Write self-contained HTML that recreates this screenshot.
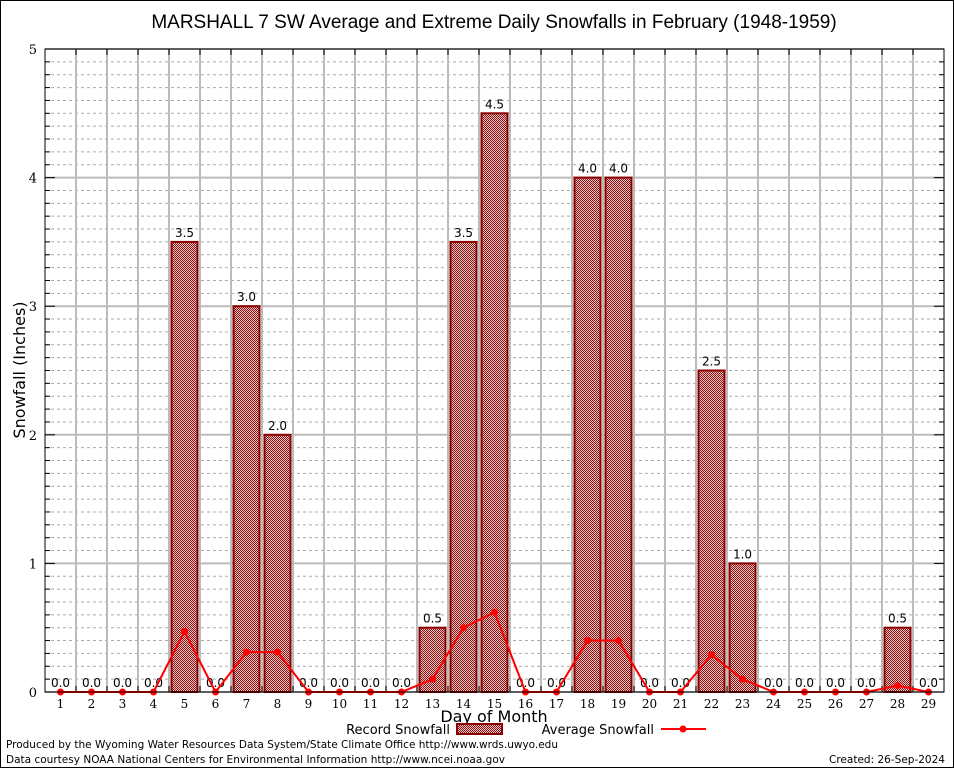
<!DOCTYPE html>
<html><head><meta charset="utf-8"><style>
body{margin:0;background:#fff}
svg{display:block;font-family:"DejaVu Sans","Liberation Sans",sans-serif}
</style></head><body>
<svg id="c" width="954" height="768">
<defs>
<pattern id="hatch" width="2" height="2" patternUnits="userSpaceOnUse">
<rect width="2" height="2" fill="#e8c4c4"/>
<rect width="1" height="1" fill="#8b1010"/>
<rect x="1" y="1" width="1" height="1" fill="#8b1010"/>
</pattern>
</defs>
<rect x="0.5" y="0.5" width="953" height="767" fill="#fff" stroke="#000"/>
<text x="494" y="28" font-size="19" text-anchor="middle" font-family="Liberation Sans, sans-serif">MARSHALL 7 SW Average and Extreme Daily Snowfalls in February (1948-1959)</text>
<g id="grid"></g>
<g id="bars"></g>
<g id="line"></g>
<rect x="45" y="49" width="899" height="643" fill="none" stroke="#000"/>
<g id="axes" font-family="DejaVu Serif, Liberation Serif, serif"></g>
<text x="25" y="370" font-size="16" text-anchor="middle" transform="rotate(-90 25 370)">Snowfall (Inches)</text>
<text x="494" y="722" font-size="16" text-anchor="middle">Day of Month</text>
<g font-size="13">
<text x="450" y="734" text-anchor="end">Record Snowfall</text>
<rect x="457" y="724" width="45" height="10" fill="url(#hatch)" stroke="#8b0000" stroke-width="2"/>
<text x="654" y="734" text-anchor="end">Average Snowfall</text>
<line x1="661" y1="729" x2="706" y2="729" stroke="#f00" stroke-width="2"/>
<circle cx="683" cy="729" r="3.5" fill="#f00"/>
</g>
<text x="6" y="748" font-size="11" textLength="552" lengthAdjust="spacingAndGlyphs">Produced by the Wyoming Water Resources Data System/State Climate Office http://www.wrds.uwyo.edu</text>
<text x="6" y="763" font-size="11" textLength="499" lengthAdjust="spacingAndGlyphs">Data courtesy NOAA National Centers for Environmental Information http://www.ncei.noaa.gov</text>
<text x="945" y="763" font-size="11" text-anchor="end" textLength="116" lengthAdjust="spacingAndGlyphs">Created:  26-Sep-2024</text>
</svg>
<script>
const days=[1,2,3,4,5,6,7,8,9,10,11,12,13,14,15,16,17,18,19,20,21,22,23,24,25,26,27,28,29];
const recordValues=[0,0,0,0,3.5,0,3.0,2.0,0,0,0,0,0.5,3.5,4.5,0,0,4.0,4.0,0,0,2.5,1.0,0,0,0,0,0.5,0];
const averageValues=[0,0,0,0,0.47,0,0.31,0.31,0,0,0,0,0.1,0.5,0.62,0,0,0.4,0.4,0,0,0.29,0.1,0,0,0,0,0.05,0];
const yTicks=[0,1,2,3,4,5];
const NS="http://www.w3.org/2000/svg";
const L=45,R=944,T=49,B=692,YMAX=5;
const bw=(R-L)/days.length;
const xs=i=>L+bw*(i+0.5);
const ys=v=>B-(v/YMAX)*(B-T);
function mk(t,a,p){const e=document.createElementNS(NS,t);for(const k in a)e.setAttribute(k,a[k]);p.appendChild(e);return e;}
const grid=document.getElementById('grid'),bars=document.getElementById('bars'),line=document.getElementById('line'),axes=document.getElementById('axes');
for(let m=1;m<YMAX*10;m++){if(m%10===0)continue;const y=ys(m/10);
const g=mk('line',{x1:L,x2:R,y1:y,y2:y,stroke:'#aaa','stroke-dasharray':'3,3','stroke-width':1},grid);

const t1=mk('line',{x1:L,x2:L+5,y1:y,y2:y,stroke:'#000'},grid);
const t2=mk('line',{x1:R-5,x2:R,y1:y,y2:y,stroke:'#000'},grid);}
yTicks.forEach(v=>{const y=ys(v);
const g=mk('line',{x1:L,x2:R,y1:y,y2:y,stroke:'#bbb','stroke-width':2},grid);
const tk=mk('line',{x1:L,x2:L+10,y1:y,y2:y,stroke:'#000'},grid);
const tk2=mk('line',{x1:R-10,x2:R,y1:y,y2:y,stroke:'#000'},grid);
const t=mk('text',{x:L-8,y:y+5,'font-size':13,'text-anchor':'end'},axes);t.textContent=v;
});
for(let i=1;i<days.length;i++){const x=L+bw*i;
const g=mk('line',{x1:x,x2:x,y1:T,y2:B,stroke:'#bbb','stroke-width':2},grid);
const tk=mk('line',{x1:x,x2:x,y1:T,y2:T+6,stroke:'#000'},grid);
const tk2=mk('line',{x1:x,x2:x,y1:B-6,y2:B,stroke:'#000'},grid);}
days.forEach((d,i)=>{const x=xs(i);
const t=mk('text',{x:x,y:B+16,'font-size':12,'text-anchor':'middle'},axes);t.textContent=d;

const v=recordValues[i];
if(v>0){const b=mk('rect',{x:x-13,y:ys(v),width:26,height:B-ys(v),fill:'url(#hatch)',stroke:'#8b0000','stroke-width':2},bars);
}
const l=mk('text',{x:x,y:ys(v)-5,'font-size':12,'text-anchor':'middle'},bars);l.textContent=v.toFixed(1);
});
const pts=averageValues.map((v,i)=>xs(i)+','+ys(v)).join(' ');
const pl=mk('polyline',{points:pts,fill:'none',stroke:'#f00','stroke-width':2},line);

averageValues.forEach((v,i)=>{const c=mk('circle',{cx:xs(i),cy:ys(v),r:3.5,fill:'#f00'},line);
});
</script>
</body></html>
